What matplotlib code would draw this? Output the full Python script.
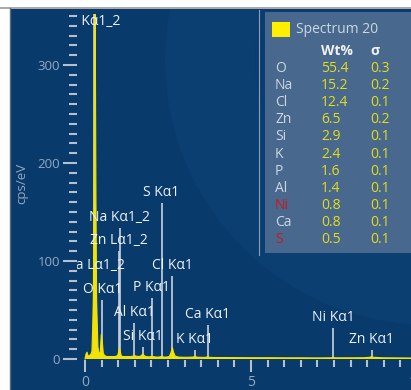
import matplotlib
matplotlib.use("Agg")
import matplotlib.pyplot as plt
from matplotlib.ticker import MultipleLocator, FixedLocator
from matplotlib.patches import Rectangle, Circle

plt.rcParams['font.family'] = ['Open Sans', 'DejaVu Sans']

# ---------------- data ----------------
energy_keV = [0.00, 0.03, 0.06, 0.09, 0.12, 0.15, 0.18, 0.21, 0.23, 0.25, 0.27, 0.29,
              0.30, 0.31, 0.33, 0.35, 0.37, 0.39, 0.42, 0.46, 0.49, 0.52, 0.55, 0.58,
              0.62, 0.66, 0.70, 0.75, 0.80, 0.85, 0.90, 0.95, 0.99, 1.02, 1.04, 1.06,
              1.09, 1.13, 1.20, 1.28, 1.36, 1.43, 1.49, 1.55, 1.62, 1.68, 1.74, 1.80,
              1.87, 1.95, 2.01, 2.07, 2.15, 2.23, 2.31, 2.38, 2.46, 2.54, 2.59, 2.63,
              2.67, 2.72, 2.82, 2.95, 3.10, 3.24, 3.31, 3.38, 3.50, 3.62, 3.69, 3.76,
              3.90, 4.20, 4.60, 5.00, 5.50, 6.00, 6.50, 7.00, 7.40, 7.47, 7.55, 8.00,
              8.40, 8.56, 8.63, 8.70, 9.00, 9.50, 10.00, 10.30]
counts_cps = [0.0, 5.0, 7.0, 3.5, 3.0, 4.0, 5.0, 8.0, 30.0, 60.0, 160.0, 330.0,
              450.0, 330.0, 160.0, 60.0, 35.0, 12.0, 6.0, 7.0, 25.0, 18.0, 6.0, 4.0,
              3.0, 2.5, 2.5, 2.5, 2.5, 2.5, 2.5, 3.0, 4.0, 8.5, 11.0, 8.0,
              3.5, 2.5, 2.5, 2.5, 2.5, 2.8, 3.5, 2.8, 2.5, 3.0, 5.0, 3.0,
              2.3, 2.2, 2.8, 2.3, 2.0, 2.0, 2.6, 2.0, 2.0, 2.5, 6.5, 12.0,
              6.5, 2.8, 2.0, 1.8, 1.8, 1.9, 2.5, 1.9, 1.7, 1.7, 2.2, 1.7,
              1.5, 1.5, 1.4, 1.3, 1.3, 1.2, 1.2, 1.1, 1.2, 1.5, 1.2, 1.2,
              1.3, 1.7, 2.3, 1.7, 1.2, 1.1, 1.0, 1.0]

line_labels = ['C Kα1_2', 'Ca Lα1_2', 'O Kα1', 'Zn Lα1_2', 'Na Kα1_2', 'Al Kα1',
               'Si Kα1', 'P Kα1', 'S Kα1', 'Cl Kα1', 'K Kα1', 'Ca Kα1', 'Ni Kα1', 'Zn Kα1']
line_energy = [0.277, 0.341, 0.525, 1.012, 1.041, 1.486, 1.740, 2.013, 2.307, 2.621,
               3.312, 3.690, 7.471, 8.630]
line_height = [352.0, 84.7, 60.2, 110.2, 133.7, 36.7, 12.2, 62.2, 159.2, 84.7,
               9.2, 34.7, 31.6, 9.2]

table_title = 'Spectrum 20'
table_elements = ['O', 'Na', 'Cl', 'Zn', 'Si', 'K', 'P', 'Al', 'Ni', 'Ca', 'S']
table_wt = ['55.4', '15.2', '12.4', '6.5', '2.9', '2.4', '1.6', '1.4', '0.8', '0.8', '0.5']
table_sigma = ['0.3', '0.2', '0.1', '0.2', '0.1', '0.1', '0.1', '0.1', '0.1', '0.1', '0.1']
table_flag = [False, False, False, False, False, False, False, False, True, False, True]

x_major = [0, 5, 10]
y_label = 'cps/eV'

# ---------------- style ----------------
W, H = 411, 390
BG = '#083a6c'
TICK = '#b4c0ce'
TICKLAB = '#95a8bf'
YELLOW = '#f2e205'


def fx(px):
    return px / W


def fy(py):
    return 1 - py / H


fig = plt.figure(figsize=(W / 100, H / 100), dpi=100, facecolor='white')

# background panel (pixel coordinates)
bg = fig.add_axes([0, 0, 1, 1], zorder=0)
bg.set_xlim(0, W)
bg.set_ylim(H, 0)
bg.axis('off')
base = Rectangle((10, 9), W - 10, H - 9, facecolor=BG, edgecolor='none')
bg.add_patch(base)
ring1 = Circle((430, 60), 265, facecolor='#0b3e71', edgecolor='none')
bg.add_patch(ring1)
ring1.set_clip_path(base)
ring2 = Circle((430, 60), 175, facecolor='#0a3c6f', edgecolor='none')
bg.add_patch(ring2)
ring2.set_clip_path(base)
bg.plot([0, W], [8, 8], color='#9a9a9a', lw=1.2)
bg.plot([10, 10], [8, H], color='#5a6a7a', lw=1.0)

# main spectrum axes
left_px, right_px, top_px, bot_px = 77, 427, 14, 360
ax = fig.add_axes([fx(left_px), fy(bot_px), (right_px - left_px) / W, (bot_px - top_px) / H],
                  zorder=1)
ax.set_facecolor('none')
ax.set_xlim((left_px - 85) / 33.2, (right_px - 85) / 33.2)
ax.set_ylim((359 - bot_px) / 0.98, (359 - top_px) / 0.98)
for s in ax.spines.values():
    s.set_visible(False)

ax.yaxis.set_major_locator(MultipleLocator(100))
ax.yaxis.set_minor_locator(MultipleLocator(10))
ax.xaxis.set_major_locator(FixedLocator(x_major))
ax.xaxis.set_minor_locator(MultipleLocator(0.5))
ax.tick_params(axis='y', which='major', direction='out', length=10, width=1.5,
               color=TICK, pad=2, labelsize=9.5, labelcolor=TICKLAB)
ax.tick_params(axis='y', which='minor', direction='out', length=5.5, width=1.5, color=TICK)
ax.tick_params(axis='x', which='major', direction='out', length=8.5, width=1.5,
               color=TICK, pad=2.5, labelsize=10, labelcolor=TICKLAB)
ax.tick_params(axis='x', which='minor', direction='out', length=5, width=1.5, color=TICK)

# marker lines and labels
for lab, e, h in zip(line_labels, line_energy, line_height):
    ax.plot([e, e], [0, h], color='#c9d1dc', lw=1.2, zorder=2, solid_capstyle='butt')
    ty = min(h + 10.7, 344)
    ax.text(e, ty, lab, ha='center', va='center', fontsize=10, color='#eef2f7',
            zorder=5, clip_on=True)

# spectrum
ax.fill_between(energy_keV, counts_cps, 0, color=YELLOW, lw=0, zorder=3)
ax.plot(energy_keV, counts_cps, color=YELLOW, lw=0.8, zorder=3)

fig.text(fx(22), fy(183), y_label, rotation=90, ha='center', va='center',
         fontsize=9.5, color=TICKLAB)

# table overlay (pixel coordinates)
ov = fig.add_axes([0, 0, 1, 1], zorder=3)
ov.set_facecolor('none')
ov.set_xlim(0, W)
ov.set_ylim(H, 0)
ov.axis('off')
ov.plot([259, 259], [10, 255], color='#8aa0b8', lw=0.8)
ov.add_patch(Rectangle((265, 12), 150, 241, facecolor='#48698d', edgecolor='none'))
ov.add_patch(Rectangle((272, 22), 18, 15, facecolor='#ffee00', edgecolor='none'))
ov.text(296, 29.5, table_title, ha='left', va='center', fontsize=10, color='#cdd7e2')
ov.text(321, 51, 'Wt%', ha='left', va='center', fontsize=10, color='#f0f2f5',
        fontweight='bold')
ov.text(370, 51, 'σ', ha='left', va='center', fontsize=10, color='#f0f2f5',
        fontweight='bold')
for i, (el, wt, sg, fl) in enumerate(zip(table_elements, table_wt, table_sigma, table_flag)):
    yy = 68.5 + i * 17.1
    ov.text(275, yy, el, ha='left', va='center', fontsize=10,
            color='#d0141e' if fl else '#cdd7e2')
    ov.text(321, yy, wt, ha='left', va='center', fontsize=10, color='#e6dc1a')
    ov.text(370, yy, sg, ha='left', va='center', fontsize=10, color='#e6dc1a')

fig.savefig('out.png', dpi=100, facecolor='white')
